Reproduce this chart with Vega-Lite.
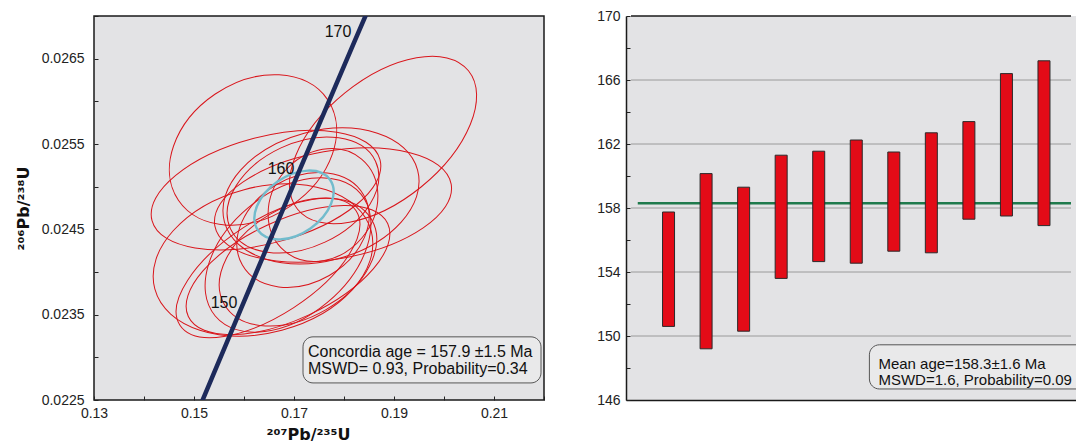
{
  "$schema": "https://vega.github.io/schema/vega-lite/v6.json",
  "background": "white",
  "padding": {"left": 14, "top": 8, "right": 0, "bottom": 0},
  "bounds": "flush",
  "spacing": 82,
  "config": {
    "font": "Liberation Sans",
    "axis": {"labelFont": "Liberation Sans", "labelFontSize": 14, "labelColor": "#222", "titleFont": "DejaVu Sans", "grid": false, "tickColor": "#222", "domainColor": "#1a1a1a", "labelOverlap": false},
    "text": {"font": "Liberation Sans"}
  },
  "datasets": {
    "ellipses": [
      {"x": 0.1618, "y": 0.02543, "semi": 0.018, "k": "0.75", "tilt": 34, "kind": "spot"},
      {"x": 0.1878, "y": 0.025547, "semi": 0.022, "k": "0.55", "tilt": 39, "kind": "spot"},
      {"x": 0.1644, "y": 0.02496, "semi": 0.0236, "k": "0.45", "tilt": 15, "kind": "spot"},
      {"x": 0.1778, "y": 0.024785, "semi": 0.024, "k": "0.45", "tilt": 10, "kind": "spot"},
      {"x": 0.1638, "y": 0.024141, "semi": 0.0224, "k": "0.65", "tilt": 15, "kind": "spot"},
      {"x": 0.1648, "y": 0.024047, "semi": 0.021, "k": "0.45", "tilt": 33, "kind": "spot"},
      {"x": 0.1718, "y": 0.024902, "semi": 0.016, "k": "0.65", "tilt": 25, "kind": "spot"},
      {"x": 0.1758, "y": 0.024785, "semi": 0.012, "k": "0.85", "tilt": 50, "kind": "spot"},
      {"x": 0.1754, "y": 0.024891, "semi": 0.02, "k": "0.65", "tilt": 15, "kind": "spot"},
      {"x": 0.1708, "y": 0.024117, "semi": 0.017, "k": "0.65", "tilt": 30, "kind": "spot"},
      {"x": 0.1688, "y": 0.0242, "semi": 0.019, "k": "0.65", "tilt": 40, "kind": "spot"},
      {"x": 0.1688, "y": 0.024023, "semi": 0.022, "k": "0.45", "tilt": 25, "kind": "spot"},
      {"x": 0.1718, "y": 0.024492, "semi": 0.014, "k": "0.75", "tilt": 30, "kind": "spot"},
      {"x": 0.17, "y": 0.024785, "semi": 0.0088, "k": "0.65", "tilt": 35, "kind": "mean"}
    ],
    "concordia": [
      {"age": 143, "x": 0.151233, "y": 0.022431},
      {"age": 145, "x": 0.153503, "y": 0.022748},
      {"age": 150, "x": 0.159197, "y": 0.023542},
      {"age": 155, "x": 0.164919, "y": 0.024336},
      {"age": 160, "x": 0.170670, "y": 0.025131},
      {"age": 165, "x": 0.176449, "y": 0.025926},
      {"age": 170, "x": 0.182256, "y": 0.026722},
      {"age": 175, "x": 0.188092, "y": 0.027519}
    ],
    "ageLabels": [
      {"x": 0.1788, "y": 0.02681, "label": "170"},
      {"x": 0.1674, "y": 0.02521, "label": "160"},
      {"x": 0.1560, "y": 0.02364, "label": "150"}
    ],
    "leftBox": [{"x": 0.1718, "x2": 0.2194, "y": 0.02324, "y2": 0.0227}],
    "leftText": [
      {"x": 0.1728, "y": 0.023062, "text": "Concordia age = 157.9 ±1.5 Ma"},
      {"x": 0.1728, "y": 0.022863, "text": "MSWD= 0.93, Probability=0.34"}
    ],
    "bars": [
      {"i": 1, "v": 150.6, "v2": 157.75},
      {"i": 2, "v": 149.2, "v2": 160.15},
      {"i": 3, "v": 150.3, "v2": 159.3},
      {"i": 4, "v": 153.6, "v2": 161.3},
      {"i": 5, "v": 154.65, "v2": 161.55},
      {"i": 6, "v": 154.55, "v2": 162.25},
      {"i": 7, "v": 155.3, "v2": 161.5},
      {"i": 8, "v": 155.2, "v2": 162.7},
      {"i": 9, "v": 157.3, "v2": 163.4},
      {"i": 10, "v": 157.5, "v2": 166.4},
      {"i": 11, "v": 156.9, "v2": 167.2}
    ],
    "grid": [
      {"v": 150, "i": 0, "i2": 11.72},
      {"v": 154, "i": 0, "i2": 11.72},
      {"v": 158, "i": 0, "i2": 11.72},
      {"v": 162, "i": 0, "i2": 11.72},
      {"v": 166, "i": 0, "i2": 11.72}
    ],
    "frameTop": [{"v": 170, "i": 0, "i2": 11.72}],
    "meanLine": [{"i": 0.18, "i2": 11.72, "v": 158.3}],
    "rightBox": [{"i": 6.35, "i2": 12.5, "v": 146.69, "v2": 149.45}],
    "rightText": [
      {"i": 6.59, "v": 148.26, "text": "Mean age=158.3±1.6 Ma"},
      {"i": 6.59, "v": 147.26, "text": "MSWD=1.6, Probability=0.09"}
    ]
  },
  "hconcat": [
    {
      "width": 450,
      "height": 384,
      "view": {"fill": "#e3e3e5", "stroke": "#1a1a1a", "strokeWidth": 1.5},
      "encoding": {
        "x": {
          "field": "x", "type": "quantitative",
          "scale": {"domain": [0.13, 0.22], "nice": false, "zero": false},
          "axis": {
            "values": [0.13, 0.14, 0.15, 0.16, 0.17, 0.18, 0.19, 0.2, 0.21, 0.22],
            "labelExpr": "round(datum.value*100) % 2 === 1 ? format(datum.value, '.2f') : ''",
            "title": "²⁰⁷Pb/²³⁵U", "titleFontSize": 16, "titleFontWeight": "bold", "titleColor": "#111",
            "titleX": 214, "titlePadding": 6, "labelPadding": 10, "tickSize": -4, "labelFlush": false, "domain": false
          }
        },
        "y": {
          "field": "y", "type": "quantitative",
          "scale": {"domain": [0.0225, 0.027], "nice": false, "zero": false},
          "axis": {
            "values": [0.0225, 0.023, 0.0235, 0.024, 0.0245, 0.025, 0.0255, 0.026, 0.0265, 0.027],
            "labelExpr": "round(datum.value*10000) % 10 === 5 ? format(datum.value, '.4f') : ''",
            "title": "²⁰⁶Pb/²³⁸U", "titleFontSize": 16, "titleFontWeight": "bold", "titleColor": "#111",
            "titlePadding": 10, "labelPadding": 14, "tickSize": -4, "domain": false
          }
        }
      },
      "layer": [
        {
          "data": {"name": "ellipses"},
          "mark": {"type": "point", "filled": false, "opacity": 1},
          "encoding": {
            "shape": {
              "field": "k", "type": "nominal", "legend": null,
              "scale": {
                "domain": ["0.45", "0.55", "0.65", "0.75", "0.85"],
                "range": [
                  "M1,0C1,0.2485,0.5523,0.45,0,0.45C-0.5523,0.45,-1,0.2485,-1,0C-1,-0.2485,-0.5523,-0.45,0,-0.45C0.5523,-0.45,1,-0.2485,1,0Z",
                  "M1,0C1,0.3038,0.5523,0.55,0,0.55C-0.5523,0.55,-1,0.3038,-1,0C-1,-0.3038,-0.5523,-0.55,0,-0.55C0.5523,-0.55,1,-0.3038,1,0Z",
                  "M1,0C1,0.359,0.5523,0.65,0,0.65C-0.5523,0.65,-1,0.359,-1,0C-1,-0.359,-0.5523,-0.65,0,-0.65C0.5523,-0.65,1,-0.359,1,0Z",
                  "M1,0C1,0.4142,0.5523,0.75,0,0.75C-0.5523,0.75,-1,0.4142,-1,0C-1,-0.4142,-0.5523,-0.75,0,-0.75C0.5523,-0.75,1,-0.4142,1,0Z",
                  "M1,0C1,0.4695,0.5523,0.85,0,0.85C-0.5523,0.85,-1,0.4695,-1,0C-1,-0.4695,-0.5523,-0.85,0,-0.85C0.5523,-0.85,1,-0.4695,1,0Z"
                ]
              }
            },
            "size": {"field": "semi", "type": "quantitative", "legend": null, "scale": {"type": "pow", "exponent": 2, "domain": [0, 0.03], "range": [0, 90000]}},
            "angle": {"field": "tilt", "type": "quantitative", "legend": null, "scale": {"domain": [0, 90], "range": [360, 270]}},
            "color": {"field": "kind", "type": "nominal", "legend": null, "scale": {"domain": ["spot", "mean"], "range": ["#d9161c", "#72bccd"]}},
            "strokeWidth": {"field": "kind", "type": "nominal", "legend": null, "scale": {"domain": ["spot", "mean"], "range": [1, 2.4]}}
          }
        },
        {
          "data": {"name": "concordia"},
          "mark": {"type": "line", "color": "#1d2a5b", "strokeWidth": 4.5, "clip": true},
          "encoding": {"order": {"field": "age", "type": "quantitative"}}
        },
        {
          "data": {"name": "ageLabels"},
          "mark": {"type": "text", "fontSize": 16, "color": "#111"},
          "encoding": {"text": {"field": "label", "type": "nominal"}}
        },
        {
          "data": {"name": "leftBox"},
          "mark": {"type": "rect", "fill": "#e9e9ea", "stroke": "#555", "strokeWidth": 1, "cornerRadius": 10},
          "encoding": {"x2": {"field": "x2"}, "y2": {"field": "y2"}}
        },
        {
          "data": {"name": "leftText"},
          "mark": {"type": "text", "align": "left", "baseline": "middle", "fontSize": 16, "color": "#111"},
          "encoding": {"text": {"field": "text", "type": "nominal"}}
        }
      ]
    },
    {
      "width": 450,
      "height": 384,
      "view": {"fill": "#e3e3e5", "stroke": null},
      "encoding": {
        "x": {"field": "i", "type": "quantitative", "scale": {"domain": [0, 11.72], "nice": false, "zero": false},
          "axis": {"labels": false, "ticks": false, "title": null, "domainColor": "#1a1a1a", "domainWidth": 1.5, "grid": false}},
        "y": {"field": "v", "type": "quantitative", "scale": {"domain": [146, 170], "nice": false, "zero": false},
          "axis": {
            "values": [146, 148, 150, 152, 154, 156, 158, 160, 162, 164, 166, 168, 170],
            "labelExpr": "datum.value % 4 === 2 ? datum.label : ''",
            "title": null, "tickSize": -4, "labelPadding": 10, "domainColor": "#1a1a1a", "domainWidth": 1.5, "grid": false
          }}
      },
      "layer": [
        {
          "data": {"name": "grid"},
          "mark": {"type": "rule", "color": "#9a9a9a", "strokeWidth": 1},
          "encoding": {"x2": {"field": "i2"}}
        },
        {
          "data": {"name": "frameTop"},
          "mark": {"type": "rule", "color": "#1a1a1a", "strokeWidth": 1.5},
          "encoding": {"x2": {"field": "i2"}}
        },
        {
          "data": {"name": "meanLine"},
          "mark": {"type": "rule", "color": "#1f7a4c", "strokeWidth": 2.5},
          "encoding": {"x2": {"field": "i2"}}
        },
        {
          "data": {"name": "bars"},
          "mark": {"type": "bar", "fill": "#e30b17", "stroke": "#2a2a2a", "strokeWidth": 1, "width": 12},
          "encoding": {"y2": {"field": "v2"}}
        },
        {
          "data": {"name": "rightBox"},
          "mark": {"type": "rect", "fill": "#e9e9ea", "stroke": "#555", "strokeWidth": 1, "cornerRadius": 10, "clip": true},
          "encoding": {"x2": {"field": "i2"}, "y2": {"field": "v2"}}
        },
        {
          "data": {"name": "rightText"},
          "mark": {"type": "text", "align": "left", "baseline": "middle", "fontSize": 15, "color": "#111", "clip": true},
          "encoding": {"text": {"field": "text", "type": "nominal"}}
        }
      ]
    }
  ]
}
